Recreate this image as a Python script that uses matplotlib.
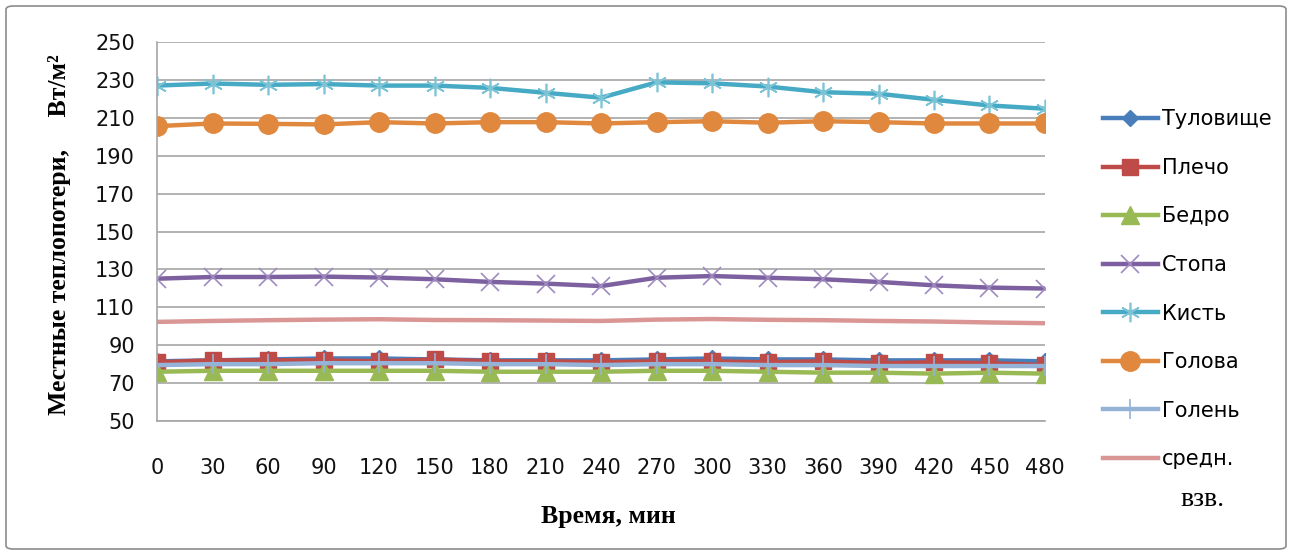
import matplotlib
matplotlib.use('Agg')
import matplotlib.pyplot as plt
from matplotlib.patches import FancyBboxPatch
import numpy as np

# time, min
t = [0, 30, 60, 90, 120, 150, 180, 210, 240, 270, 300, 330, 360, 390, 420, 450, 480]

tulovische = [81.5, 82, 82.5, 83, 83, 82.5, 82, 82, 82, 82.5, 83, 82.5, 82.5, 82, 82, 82, 81.5]
plecho = [81, 82, 82, 82, 81.5, 82.5, 81.5, 81.5, 81, 81.5, 81.5, 81, 81.5, 80.5, 81, 80.5, 79.5]
bedro = [76, 76.5, 76.5, 76.5, 76.5, 76.5, 76, 76, 76, 76.5, 76.5, 76, 75.5, 75.5, 75, 75.5, 75]
stopa = [125.1, 126.0, 126.0, 126.2, 125.7, 124.8, 123.4, 122.5, 121.2, 125.6, 126.5, 125.6, 124.8, 123.4, 121.6, 120.4, 119.9]
kist = [227.0, 228.1, 227.4, 227.8, 227.0, 227.0, 225.8, 223.2, 220.6, 228.7, 228.2, 226.5, 223.5, 222.7, 219.5, 216.5, 214.8]
golova = [205.6, 207.0, 206.8, 206.5, 207.7, 207.0, 207.7, 207.7, 207.0, 207.7, 208.2, 207.4, 208.2, 207.7, 207.0, 207.0, 207.0]
golen = [79.5, 80, 80, 80.5, 80.5, 80.5, 80, 80, 79.5, 80, 80, 79.5, 79.5, 79, 79, 79, 79]
sredn = [102.3, 102.8, 103.2, 103.5, 103.7, 103.3, 103.2, 103.0, 102.8, 103.5, 103.8, 103.4, 103.2, 102.8, 102.5, 102.0, 101.6]

yticks = list(range(50, 251, 20))

W, H = 1292, 555
fig = plt.figure(figsize=(W/100, H/100), dpi=100)
ax = fig.add_axes([157/W, 1-421/H, (1045-157)/W, (421-42)/H])

# outer chart border
fig.patches.append(FancyBboxPatch((6/W, 6/H), 1280/W, 543/H,
                                  boxstyle='round,pad=0,rounding_size=0.006',
                                  transform=fig.transFigure, fill=False,
                                  edgecolor='#8c8c8c', linewidth=1.2))

lw = 3.2
ax.plot(t, tulovische, color='#4A7EBB', lw=lw, marker='D', ms=8,
        mfc='#4A7EBB', mec='#4A7EBB', label='Туловище')
ax.plot(t, plecho, color='#BE4B48', lw=lw, marker='s', ms=12,
        mfc='#BE4B48', mec='#BE4B48', label='Плечо')
ax.plot(t, bedro, color='#98B954', lw=lw, marker='^', ms=13,
        mfc='#98B954', mec='#98B954', label='Бедро')
ax.plot(t, stopa, color='#7D60A0', lw=lw, marker='x', ms=13, mew=1.2,
        mec='#A08BC0', label='Стопа')
ax.plot(t, kist, color='#46AAC5', lw=lw, marker=(6, 2, 0), ms=14, mew=1.2,
        mec='#7CC3D6', label='Кисть')
ax.plot(t, golova, color='#E0883E', lw=lw, marker='o', ms=14,
        mfc='#E0883E', mec='#E0883E', label='Голова')
ax.plot(t, golen, color='#95B3D7', lw=lw, marker='|', ms=14, mew=1.2,
        mec='#95B3D7', label='Голень')
ax.plot(t, sredn, color='#D99694', lw=lw, label='средн.')

ax.set_xlim(0, 480)
ax.set_ylim(50, 250)
ax.set_xticks(t)
ax.set_yticks(yticks)
ax.grid(axis='y', color='#a6a6a6', lw=1.2)
ax.set_axisbelow(True)
for s in ['top', 'right']:
    ax.spines[s].set_visible(False)
for s in ['left', 'bottom']:
    ax.spines[s].set_color('#a6a6a6')
    ax.spines[s].set_linewidth(1.2)
ax.tick_params(length=0, labelsize=15, labelcolor='#111111')
ax.tick_params(axis='y', pad=16)
ax.tick_params(axis='x', pad=27)
for lab in ax.get_xticklabels() + ax.get_yticklabels():
    lab.set_fontfamily('DejaVu Sans')

fig.text(608/W, 1-517/H, 'Время, мин', family='Liberation Serif', weight='bold',
         fontsize=18.5, ha='center', va='center')
fig.text(60/W, 1-235/H, 'Местные теплопотери,     Вт/м²', family='Liberation Serif',
         weight='bold', fontsize=18.5, ha='center', va='center', rotation=90)

leg = fig.legend(loc='upper left', bbox_to_anchor=(1095/W, 1-101/H),
                 frameon=False, handlelength=2.6, handletextpad=0.2,
                 labelspacing=1.37, prop={'family': 'DejaVu Sans', 'size': 15},
                 borderaxespad=0)
fig.text(1180/W, 1-500/H, 'взв.', family='Liberation Serif',
         fontsize=20, va='center')

fig.savefig('out.png', dpi=100)
